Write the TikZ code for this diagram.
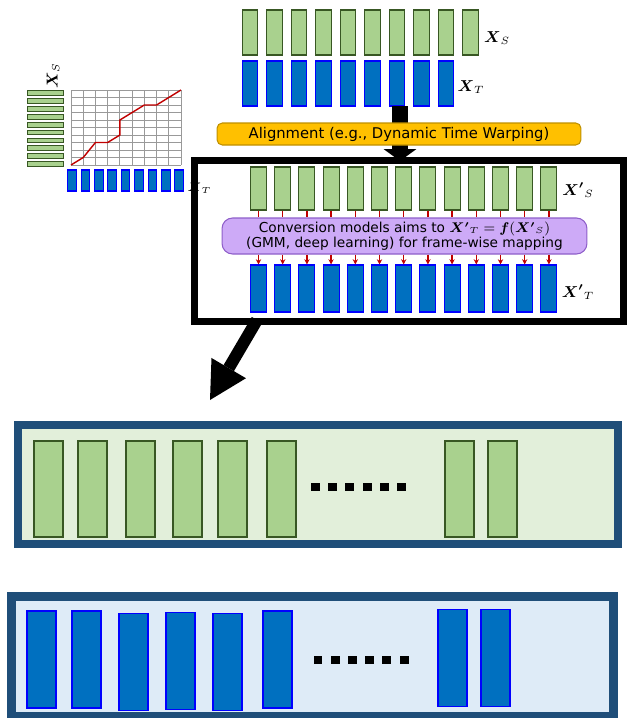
\documentclass[tikz,border=0pt]{standalone}
\usepackage{amsmath}
\usepackage{amssymb}
\usepackage{fontspec}
\setsansfont{DejaVu Sans}
\usetikzlibrary{arrows.meta}

\definecolor{barGreen}{HTML}{A9D18E}
\definecolor{barGreenEdge}{HTML}{385723}
\definecolor{barBlue}{HTML}{0070C0}
\definecolor{barBlueEdge}{HTML}{0000FF}
\definecolor{panelEdge}{HTML}{1F4E79}
\definecolor{panelGreen}{HTML}{E2EFDA}
\definecolor{panelBlue}{HTML}{DEEBF7}
\definecolor{alignFill}{HTML}{FFC000}
\definecolor{alignEdge}{HTML}{BF9000}
\definecolor{convFill}{HTML}{CDAAF7}
\definecolor{convEdge}{HTML}{8E5EC9}
\definecolor{mapRed}{HTML}{C00000}

\tikzset{
	gbar/.style={draw=barGreenEdge, fill=barGreen, line width=0.6pt, inner sep=0pt},
	bbar/.style={draw=barBlueEdge, fill=barBlue, line width=0.6pt, inner sep=0pt},
	seqlabel/.style={inner sep=0pt, font=\fontsize{9}{10}\selectfont},
	dotsq/.style={fill=black, inner sep=0pt, minimum width=0.18cm, minimum height=0.16cm},
	mapline/.style={draw=mapRed, line width=0.7pt},
	panel/.style={draw=panelEdge, inner sep=0pt},
}

\begin{document}
\begin{tikzpicture}[x=0.02cm, y=-0.02cm]
	\useasboundingbox (0,0) rectangle (627,718);
	% input sequences
	\foreach \i in {0,...,9}
		\node[gbar, minimum width=0.31cm, minimum height=0.9cm] (s\i) at (250+24.5*\i, 32.5) {};
	\foreach \i in {0,...,8}
		\node[bbar, minimum width=0.31cm, minimum height=0.9cm] (t\i) at (250+24.5*\i, 83.5) {};
	\node[seqlabel] (lxs) at (497,38) {$\boldsymbol{X}_S$};
	\node[seqlabel] (lxt) at (471,87) {$\boldsymbol{X}_T$};

	% alignment step
	\coordinate (ta) at (400,106);
	\coordinate (tb) at (400,161);
	\draw[line width=0.34cm, -{Triangle[length=0.24cm, width=0.66cm, line width=0pt]}] (ta) -- (tb);
	\node[draw=alignEdge, fill=alignFill, rounded corners=3pt, line width=0.6pt, minimum width=7.28cm, minimum height=0.44cm, inner sep=0pt, font=\sffamily\fontsize{8.4}{9.6}\selectfont] (align) at (399,134) {Alignment (e.g., Dynamic Time Warping)};

	% DTW path
	\foreach \i in {0,...,9}
		\node[gbar, minimum width=0.72cm, minimum height=0.095cm, line width=0.5pt] (ls\i) at (45, 93+7.9*\i) {};
	\foreach \i in {0,...,8}
		\node[bbar, minimum width=0.17cm, minimum height=0.42cm] (lt\i) at (72+13.4*\i, 180.5) {};
	\begin{scope}[shift={(71,165)}, x=0.2444cm, y=0.15cm]
		\foreach \c in {0,...,9}
			\draw[gray!80, line width=0.45pt] (\c,0) -- (\c,10);
		\foreach \r in {0,...,10}
			\draw[gray!80, line width=0.45pt] (0,\r) -- (9,\r);
		\draw[mapRed, line width=0.8pt] (0,0) -- (1,1) -- (2,3) -- (3,3) -- (4,4) -- (4,6) -- (5,7) -- (6,8) -- (7,8) -- (9,10);
	\end{scope}
	\node[seqlabel, rotate=90] (llxs) at (53,76) {$\boldsymbol{X}_S$};
	\node[seqlabel, font=\fontsize{7.5}{9}\selectfont] (llxt) at (199.5,188) {$\boldsymbol{X}_T$};

	% aligned frames and conversion
	\foreach \i in {0,...,12}
		\node[gbar, minimum width=0.32cm, minimum height=0.86cm] (ps\i) at (258.5+24.2*\i, 188.5) {};
	\foreach \i in {0,...,12}
		\node[bbar, minimum width=0.32cm, minimum height=0.94cm] (pt\i) at (258.5+24.2*\i, 288.5) {};
	\node[draw=convEdge, fill=convFill, rounded corners=6pt, line width=0.6pt, minimum width=7.3cm, minimum height=0.72cm, inner sep=0pt, align=center, font=\sffamily\fontsize{7.8}{8.8}\selectfont] (conv) at (404.5,236)
		{Conversion models aims to $\boldsymbol{X'}_T = \boldsymbol{f}(\boldsymbol{X'}_S)$\\(GMM, deep learning) for frame-wise mapping};
	\foreach \i in {0,...,12} {
		\draw[mapline] (ps\i.south) -- (ps\i.south |- conv.north);
		\draw[mapline, -{Stealth[length=3pt, width=3pt]}] (pt\i.north |- conv.south) -- (pt\i.north);
	}
	\node[seqlabel] (lpxs) at (578,190) {$\boldsymbol{X'}_S$};
	\node[seqlabel] (lpxt) at (578,292) {$\boldsymbol{X'}_T$};

	\coordinate (bigA) at (257,320);
	\coordinate (bigB) at (210,400);
	\draw[line width=0.24cm, -{Triangle[length=0.74cm, width=0.8cm, line width=0pt]}] (bigA) -- (bigB);
	\node[draw, line width=0.14cm, minimum width=8.58cm, minimum height=3.23cm, inner sep=0pt] (frame) at (409,241.25) {};

	% frame sequences
	\node[panel, fill=panelGreen, line width=0.16cm, minimum width=12cm, minimum height=2.38cm] (gpanel) at (318,484.5) {};
	\foreach \x [count=\k] in {48.5, 92.5, 140.5, 187.5, 232.5, 281.5, 459.5, 502.5}
		\node[gbar, line width=1pt, minimum width=0.58cm, minimum height=1.92cm] (g\k) at (\x,489) {};
	\foreach \i in {0,...,5}
		\node[dotsq] (gd\i) at (315.5+17.2*\i, 487) {};

	\node[panel, fill=panelBlue, line width=0.18cm, minimum width=12.05cm, minimum height=2.41cm] (bpanel) at (312.75,656.75) {};
	\foreach \x/\y [count=\k] in {41.5/659.5, 86.5/659.5, 133.5/662, 180.5/661, 227.5/662, 277.5/659.5, 452.5/658, 495.5/658}
		\node[bbar, line width=1pt, minimum width=0.58cm, minimum height=1.94cm] (b\k) at (\x,\y) {};
	\foreach \i in {0,...,5}
		\node[dotsq] (bd\i) at (318+17.2*\i, 659.5) {};
\end{tikzpicture}
\end{document}
